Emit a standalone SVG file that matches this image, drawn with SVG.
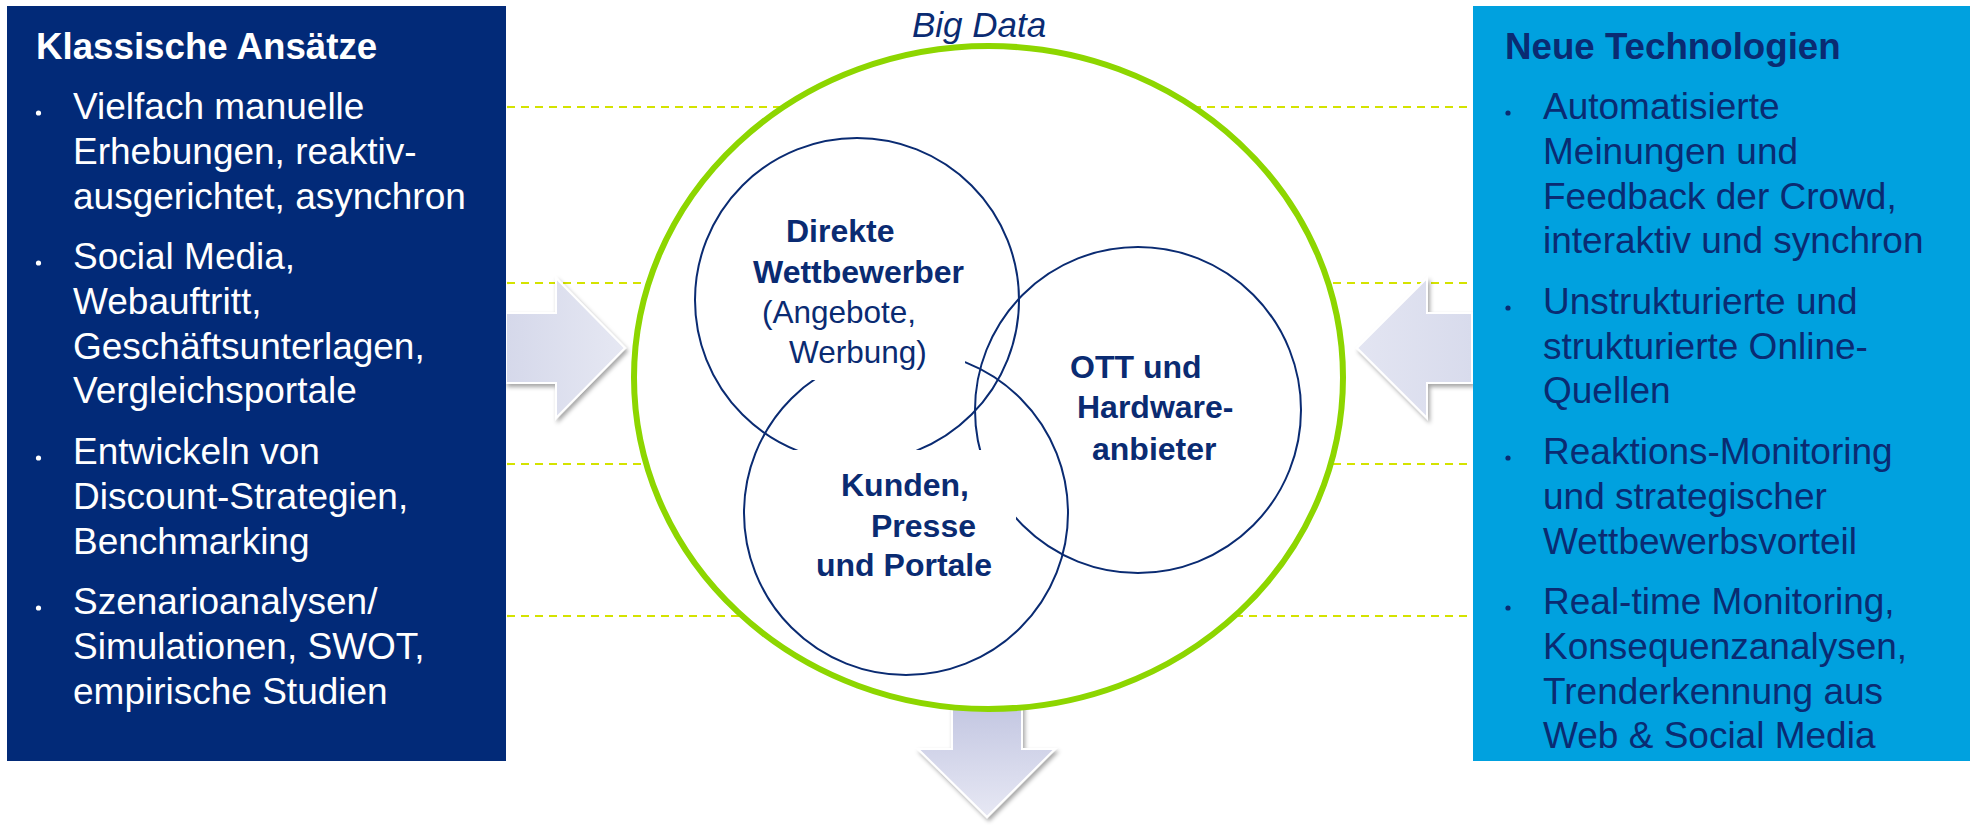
<svg xmlns="http://www.w3.org/2000/svg" width="1970" height="833" viewBox="0 0 1970 833">
<style>
.t{font-family:"Liberation Sans",Arial,sans-serif}
.h{font-size:36.7px;font-weight:bold}
.b{font-size:37px}
.w{fill:#FFFFFF}
.n{fill:#0A2B72}
.c{font-size:32px;font-weight:bold;fill:#0A2B72}
.cr{font-size:31.5px;fill:#0A2B72}
.dash{stroke:#D4E300;stroke-width:2.2;stroke-dasharray:8 6;fill:none}
.ring{fill:none;stroke:#0A2B72;stroke-width:2}
.arr{stroke:#FFFFFF;stroke-width:2;filter:url(#sh)}
</style>
<defs>
<linearGradient id="gh" x1="0" y1="0" x2="1" y2="0"><stop offset="0" stop-color="#D5D8EA"/><stop offset="1" stop-color="#E6E8F3"/></linearGradient>
<linearGradient id="ghr" x1="0" y1="0" x2="1" y2="0"><stop offset="0" stop-color="#E3E5F2"/><stop offset="1" stop-color="#D8DBEC"/></linearGradient>
<linearGradient id="gv" x1="0" y1="0" x2="0" y2="1"><stop offset="0" stop-color="#BEC2DF"/><stop offset="1" stop-color="#E7E8F4"/></linearGradient>
<filter id="sh" x="-20%" y="-20%" width="150%" height="150%"><feDropShadow dx="2" dy="3" stdDeviation="2" flood-color="#000" flood-opacity="0.35"/></filter>
<clipPath id="clipC"><path clip-rule="evenodd" d="M0,0H1970V833H0Z M760,190H965V380H760Z"/></clipPath>
<clipPath id="clipAB"><path clip-rule="evenodd" d="M0,0H1970V833H0Z M780,450H1016V600H780Z"/></clipPath>
</defs>
<rect width="1970" height="833" fill="#FFFFFF"/>

<g id="connectors">
<line class="dash" x1="507" y1="107" x2="1470" y2="107"/>
<line class="dash" x1="507" y1="283" x2="1470" y2="283"/>
<line class="dash" x1="507" y1="464" x2="1470" y2="464"/>
<line class="dash" x1="507" y1="616" x2="1470" y2="616"/>
<polygon class="arr" fill="url(#gh)" points="506,313 556,313 556,278 625,348 556,418 556,383 506,383"/>
<polygon class="arr" fill="url(#ghr)" points="1472,313 1427,313 1427,278 1357,348 1427,418 1427,383 1472,383"/>
<polygon class="arr" fill="url(#gv)" points="952,690 1022,690 1022,749 1055,749 987,817 918,749 952,749"/>
</g>

<g id="left-box">
<rect x="7" y="6" width="499" height="755" fill="#022A78"/>
<text class="t h w" x="36" y="59">Klassische Ansätze</text>
<g fill="#FFFFFF"><circle cx="38.5" cy="113" r="2.6"/><circle cx="38.5" cy="263" r="2.6"/><circle cx="38.5" cy="458" r="2.6"/><circle cx="38.5" cy="608" r="2.6"/></g>
<text class="t b w" x="73" y="119">Vielfach manuelle</text>
<text class="t b w" x="73" y="164">Erhebungen, reaktiv-</text>
<text class="t b w" x="73" y="209">ausgerichtet, asynchron</text>
<text class="t b w" x="73" y="269">Social Media,</text>
<text class="t b w" x="73" y="314">Webauftritt,</text>
<text class="t b w" x="73" y="359">Geschäftsunterlagen,</text>
<text class="t b w" x="73" y="403">Vergleichsportale</text>
<text class="t b w" x="73" y="464">Entwickeln von</text>
<text class="t b w" x="73" y="509">Discount-Strategien,</text>
<text class="t b w" x="73" y="554">Benchmarking</text>
<text class="t b w" x="73" y="614">Szenarioanalysen/</text>
<text class="t b w" x="73" y="659">Simulationen, SWOT,</text>
<text class="t b w" x="73" y="704">empirische Studien</text>
</g>

<g id="right-box">
<rect x="1473" y="6" width="497" height="755" fill="#00A1DF"/>
<text class="t h n" x="1505" y="59">Neue Technologien</text>
<g fill="#0A2B72"><circle cx="1508" cy="113" r="2.6"/><circle cx="1508" cy="308" r="2.6"/><circle cx="1508" cy="458" r="2.6"/><circle cx="1508" cy="608" r="2.6"/></g>
<text class="t b n" x="1543" y="119">Automatisierte</text>
<text class="t b n" x="1543" y="164">Meinungen und</text>
<text class="t b n" x="1543" y="209">Feedback der Crowd,</text>
<text class="t b n" x="1543" y="253">interaktiv und synchron</text>
<text class="t b n" x="1543" y="314">Unstrukturierte und</text>
<text class="t b n" x="1543" y="359">strukturierte Online-</text>
<text class="t b n" x="1543" y="403">Quellen</text>
<text class="t b n" x="1543" y="464">Reaktions-Monitoring</text>
<text class="t b n" x="1543" y="509">und strategischer</text>
<text class="t b n" x="1543" y="554">Wettbewerbsvorteil</text>
<text class="t b n" x="1543" y="614">Real-time Monitoring,</text>
<text class="t b n" x="1543" y="659">Konsequenzanalysen,</text>
<text class="t b n" x="1543" y="704">Trenderkennung aus</text>
<text class="t b n" x="1543" y="748">Web &amp; Social Media</text>
</g>

<g id="big-data">
<ellipse cx="988.5" cy="377.5" rx="354.5" ry="331.5" fill="#FFFFFF" stroke="#8DD600" stroke-width="6"/>
<text class="t n" x="912" y="37" font-size="35" font-style="italic">Big Data</text>
</g>

<g id="node-direkte">
<circle class="ring" cx="857" cy="300" r="162" clip-path="url(#clipAB)"/>
<text class="t c" x="786" y="242">Direkte</text>
<text class="t c" x="753" y="283">Wettbewerber</text>
<text class="t cr" x="762" y="323">(Angebote,</text>
<text class="t cr" x="789" y="363">Werbung)</text>
</g>

<g id="node-ott">
<circle class="ring" cx="1138" cy="410" r="163" clip-path="url(#clipAB)"/>
<text class="t c" x="1070" y="378">OTT und</text>
<text class="t c" x="1077" y="418">Hardware-</text>
<text class="t c" x="1092" y="460">anbieter</text>
</g>

<g id="node-kunden">
<circle class="ring" cx="906" cy="513" r="162" clip-path="url(#clipC)"/>
<text class="t c" x="841" y="496">Kunden,</text>
<text class="t c" x="871" y="537">Presse</text>
<text class="t c" x="816" y="576">und Portale</text>
</g>
</svg>
